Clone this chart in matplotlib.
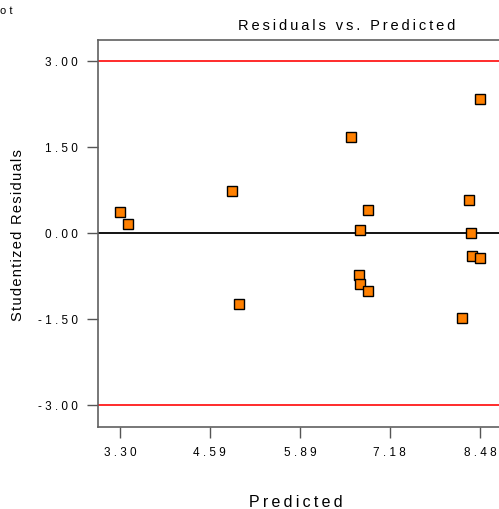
import matplotlib
matplotlib.use("Agg")
import matplotlib.pyplot as plt

# studentized residuals vs predicted values
predicted = [3.30, 3.41, 4.91, 5.01, 6.62, 6.75, 6.87, 6.74, 6.75, 6.87,
             8.22, 8.32, 8.35, 8.36, 8.48, 8.48]
residuals = [0.37, 0.15, 0.73, -1.24, 1.67, 0.05, 0.40, -0.73, -0.89, -1.01,
             -1.48, 0.57, 0.00, -0.40, -0.44, 2.33]
x_ticks = [3.30, 4.59, 5.89, 7.18, 8.48]
y_ticks = [-3.00, -1.50, 0.00, 1.50, 3.00]
limit_lines = [-3.0, 3.0]


def spaced(s, sep=" "):
    return sep.join(s)


plt.rcParams['font.family'] = ['Liberation Sans', 'DejaVu Sans']

W, H = 499, 510
fig = plt.figure(figsize=(W / 100, H / 100), dpi=100)
# axes runs off the right edge like the original screenshot
ax = fig.add_axes([98 / W, 1 - 428 / H, 499 / W, (428 - 41) / H])

ax.plot(predicted, residuals, linestyle='none', marker='s', markersize=7,
        markerfacecolor='#ff8000', markeredgecolor='black',
        markeredgewidth=1.0, zorder=3)
ax.axhline(0, color='black', lw=1.3, zorder=2)
for v in limit_lines:
    ax.axhline(v, color='#ff1a1a', lw=1.3, zorder=2)

ax.set_xlim(2.983, 10.16)
ax.set_ylim(-3.384, 3.366)
ax.set_xticks(x_ticks)
ax.set_xticklabels([spaced("%.2f" % v) for v in x_ticks], fontsize=8.5)
ax.set_yticks(y_ticks)
ax.set_yticklabels([spaced("%.2f" % v) for v in y_ticks], fontsize=8.5)
ax.tick_params(direction='out', length=8, width=1, color='#555555')
ax.tick_params(axis='y', pad=6.5)
ax.tick_params(axis='x', pad=6)

for side in ['left', 'bottom', 'top']:
    ax.spines[side].set_color('#606060')
    ax.spines[side].set_linewidth(1.2)
ax.spines['right'].set_visible(False)

fig.text(347 / W, 1 - 30 / H, spaced("Residuals vs. Predicted", "\u2009"),
         ha='center', va='baseline', fontsize=10.5)
fig.text(296 / W, 1 - 507 / H, spaced("Predicted", "\u2009"),
         ha='center', va='baseline', fontsize=11.5)
fig.text(18 / W, 1 - 235 / H, spaced("Studentized Residuals", "\u200a"),
         rotation=90, ha='center', va='center', fontsize=10.5)
fig.text(0.5 / W, 1 - 14 / H, "o t", ha='left', va='baseline', fontsize=8)

fig.savefig("out.png", dpi=100)
